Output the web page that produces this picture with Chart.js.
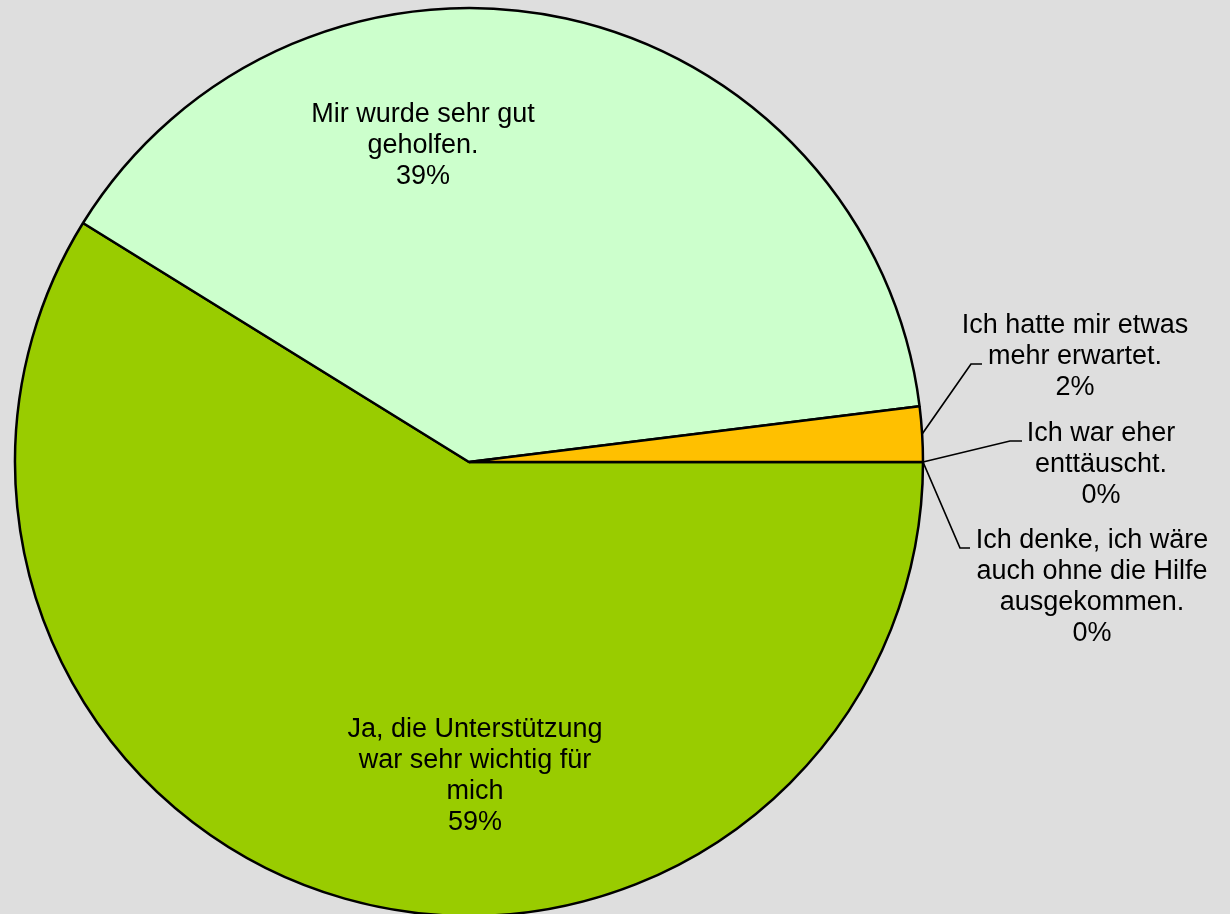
<!DOCTYPE html>
<html>
<head>
<meta charset="utf-8">
<script src="https://cdn.jsdelivr.net/npm/chart.js@4"></script>
<style>
  html, body { margin: 0; padding: 0; background: #dedede; overflow: hidden; }
  #wrap { width: 1230px; height: 914px; }
</style>
</head>
<body>
<div id="wrap"><canvas id="chart" width="1230" height="914"></canvas></div>
<script>
// answers (in drawing order, clockwise from 3 o'clock)
const categories = [
  ['Ja, die Unterstützung', 'war sehr wichtig für', 'mich'],
  ['Mir wurde sehr gut', 'geholfen.'],
  ['Ich hatte mir etwas', 'mehr erwartet.'],
  ['Ich war eher', 'enttäuscht.'],
  ['Ich denke, ich wäre', 'auch ohne die Hilfe', 'ausgekommen.']
];
const counts = [30, 20, 1, 0, 0];
const sliceColors = ['#99cc00', '#ccffcc', '#ffc000', '#ff9900', '#ff6600'];

// label placement, offsets from pie centre (text centre x, middle baseline y)
const labelSpots = [
  { dx: 6, dy: 321 },
  { dx: -46, dy: -309 },
  { dx: 606, dy: -98, elbow: [-104, 0], end: [-93, 0] },
  { dx: 632, dy: 10, elbow: [-91, -31], end: [-79, -31] },
  { dx: 623, dy: 132, elbow: [-132, -46], end: [-122, -46] }
];

const pieLabels = {
  id: 'pieLabels',
  afterDatasetsDraw(chart) {
    const ctx = chart.ctx;
    const arcs = chart.getDatasetMeta(0).data;
    const total = counts.reduce((a, b) => a + b, 0);
    const lineH = 31;
    ctx.save();
    ctx.font = '27px "Liberation Sans", Arial, sans-serif';
    ctx.fillStyle = '#000';
    ctx.textAlign = 'center';
    ctx.textBaseline = 'alphabetic';
    arcs.forEach((arc, i) => {
      const spot = labelSpots[i];
      const tx = arc.x + spot.dx;
      const ty = arc.y + spot.dy;
      const lines = categories[i].concat([Math.round(counts[i] / total * 100) + '%']);
      const y0 = ty - (lines.length - 1) / 2 * lineH;
      lines.forEach((t, k) => ctx.fillText(t, tx, y0 + k * lineH));
      if (spot.elbow) {
        // leader line from the slice edge to the label
        const mid = (arc.startAngle + arc.endAngle) / 2;
        const sx = arc.x + arc.outerRadius * Math.cos(mid);
        const sy = arc.y + arc.outerRadius * Math.sin(mid);
        ctx.beginPath();
        ctx.strokeStyle = '#000';
        ctx.lineWidth = 1.7;
        ctx.moveTo(sx, sy);
        ctx.lineTo(tx + spot.elbow[0], ty + spot.elbow[1]);
        ctx.lineTo(tx + spot.end[0], ty + spot.end[1]);
        ctx.stroke();
      }
    });
    ctx.restore();
  }
};

new Chart(document.getElementById('chart'), {
  type: 'pie',
  data: {
    labels: categories,
    datasets: [{
      data: counts,
      backgroundColor: sliceColors,
      borderColor: '#000',
      borderWidth: 2.5,
      radius: 454
    }]
  },
  options: {
    responsive: false,
    animation: false,
    rotation: 90,
    layout: { padding: { left: 0, right: 292, top: 10, bottom: 0 } },
    plugins: {
      legend: { display: false },
      tooltip: { enabled: false }
    }
  },
  plugins: [pieLabels]
});
</script>
</body>
</html>
